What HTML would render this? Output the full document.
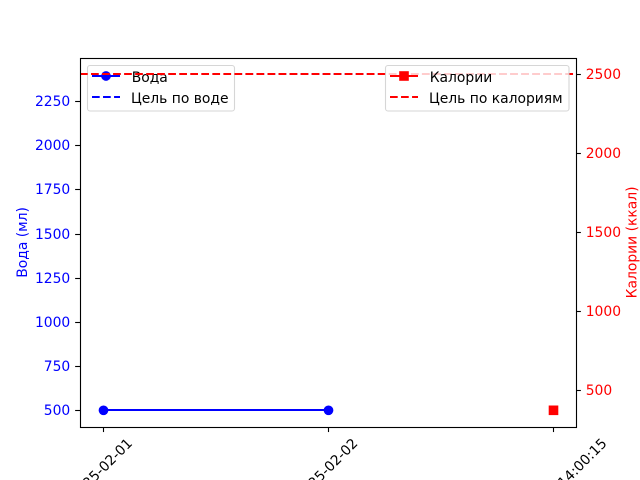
<!DOCTYPE html>
<html lang="ru">
<head>
<meta charset="utf-8">
<title>Вода и калории</title>
<style>
html,body{margin:0;padding:0;background:#fff;width:640px;height:480px;overflow:hidden}
svg{display:block;overflow:hidden}
text{font-family:"DejaVu Sans","Liberation Sans",sans-serif;font-size:13.89px}
</style>
</head>
<body>
<svg id="chart" width="640" height="480" viewBox="0 0 640 480" xmlns="http://www.w3.org/2000/svg">
<rect x="0" y="0" width="640" height="480" fill="#fff"/>
<g id="water-layer"></g>
<g id="water-legend">
<rect x="87.5" y="65.5" width="147" height="45.5" rx="2.5" fill="#fff" fill-opacity="0.8" stroke="#ccc" stroke-opacity="0.8" stroke-width="1.1"/>
<line x1="92" y1="76" x2="120" y2="76" stroke="#00f" stroke-width="2"/>
<circle cx="106" cy="76" r="4.86" fill="#00f"/>
<text x="131.7" y="82" fill="#000">Вода</text>
<line x1="92" y1="97" x2="120" y2="97" stroke="#00f" stroke-width="2" stroke-dasharray="7.7 3.33"/>
<text x="131" y="103" fill="#000">Цель по воде</text>
</g>
<g id="calorie-layer"></g>
<g id="calorie-legend">
<rect x="385.5" y="65.5" width="183.5" height="45.5" rx="2.5" fill="#fff" fill-opacity="0.8" stroke="#ccc" stroke-opacity="0.8" stroke-width="1.1"/>
<line x1="390" y1="76" x2="418" y2="76" stroke="#f00" stroke-width="2"/>
<rect x="399.2" y="71.2" width="9.6" height="9.6" fill="#f00"/>
<text x="429.7" y="82" fill="#000">Калории</text>
<line x1="390" y1="97" x2="418" y2="97" stroke="#f00" stroke-width="2" stroke-dasharray="7.7 3.33"/>
<text x="429" y="103" fill="#000">Цель по калориям</text>
</g>
<g id="axes-layer"></g>
<text transform="translate(27,242.4) rotate(-90)" text-anchor="middle" fill="#00f">Вода (мл)</text>
<text transform="translate(636.7,242.4) rotate(-90)" text-anchor="middle" fill="#f00">Калории (ккал)</text>
</svg>
<script>
const categories = ["2025-02-01", "2025-02-02", "2025-02-03 14:00:15"];
const waterValues = [500, 500, null];
const calorieValues = [null, null, 370];
const waterGoal = [2400];
const calorieGoal = [2500];
const waterTicks = [500, 750, 1000, 1250, 1500, 1750, 2000, 2250];
const calorieTicks = [500, 1000, 1500, 2000, 2500];

const NS = 'http://www.w3.org/2000/svg';
const plotLeft = 80, plotRight = 576, plotTop = 57.6, plotBottom = 427.2;

function paddedDomain(values) {
  const present = values.filter(function (v) { return v !== null; });
  const lo = Math.min.apply(null, present), hi = Math.max.apply(null, present);
  const pad = (hi - lo || 1) * 0.05;
  return [lo - pad, hi + pad];
}
const waterDomain = paddedDomain(waterValues.concat(waterGoal));
const calorieDomain = paddedDomain(calorieValues.concat(calorieGoal));

function xScale(i) {
  const span = categories.length - 1;
  const pad = span * 0.05;
  return plotLeft + (i + pad) / (span + 2 * pad) * (plotRight - plotLeft);
}
function yScale(v, domain) {
  return plotBottom - (v - domain[0]) / (domain[1] - domain[0]) * (plotBottom - plotTop);
}
function yWater(v) { return yScale(v, waterDomain); }
function yCalorie(v) { return yScale(v, calorieDomain); }
// Pixel snapping, as the reference renderer does for thin and for 2px strokes.
function snapOdd(v) { return Math.floor(v + 0.5) + 0.5; }
function snapEven(v) { return Math.floor(v + 0.5); }

function make(tag, attrs, parent, content) {
  const el = document.createElementNS(NS, tag);
  Object.keys(attrs).forEach(function (k) { el.setAttribute(k, attrs[k]); });
  if (content !== undefined) el.textContent = content;
  parent.appendChild(el);
  return el;
}

const waterLayer = document.getElementById('water-layer');
const calorieLayer = document.getElementById('calorie-layer');
const axesLayer = document.getElementById('axes-layer');
const dash = '7.7 3.33';

// Water series
const waterPts = [];
waterValues.forEach(function (v, i) {
  if (v !== null) waterPts.push(snapOdd(xScale(i)) + ',' + snapEven(yWater(v)));
});
const waterLine = make('polyline', { points: waterPts.join(' '), fill: 'none', stroke: '#00f', 'stroke-width': 2 }, waterLayer);


waterValues.forEach(function (v, i) {
  if (v === null) return;
  const c = make('circle', { cx: snapOdd(xScale(i)), cy: snapOdd(yWater(v)) - 0.2, r: 4.86, fill: '#00f' }, waterLayer);
  
  
});
const waterGoalY = snapEven(yWater(waterGoal[0]));
const waterGoalLine = make('line', { x1: plotLeft, x2: plotRight, y1: waterGoalY, y2: waterGoalY, stroke: '#00f', 'stroke-width': 2, 'stroke-dasharray': dash }, waterLayer);



// Calorie series
const caloriePts = [];
calorieValues.forEach(function (v, i) {
  if (v !== null) caloriePts.push(snapOdd(xScale(i)) + ',' + snapEven(yCalorie(v)));
});
const calorieLine = make('polyline', { points: caloriePts.join(' '), fill: 'none', stroke: '#f00', 'stroke-width': 2 }, calorieLayer);


calorieValues.forEach(function (v, i) {
  if (v === null) return;
  const s = make('rect', { x: snapOdd(xScale(i)) - 4.8, y: snapOdd(yCalorie(v)) - 5, width: 9.6, height: 9.6, fill: '#f00' }, calorieLayer);
  
  
});
const calorieGoalY = snapEven(yCalorie(calorieGoal[0]));
const calorieGoalLine = make('line', { x1: plotLeft, x2: plotRight, y1: calorieGoalY, y2: calorieGoalY, stroke: '#f00', 'stroke-width': 2, 'stroke-dasharray': dash }, calorieLayer);



// Frame
const frameX = snapOdd(plotLeft), frameY = snapOdd(plotTop);
const frame = make('rect', { x: frameX, y: frameY, width: snapOdd(plotRight) - frameX, height: snapOdd(plotBottom) - frameY, fill: 'none', stroke: '#000', 'stroke-width': 1.11 }, axesLayer);



// Left y axis
waterTicks.forEach(function (t) {
  const y = yWater(t);
  const tick = make('line', { x1: plotLeft - 4.86, x2: plotLeft, y1: snapOdd(y), y2: snapOdd(y), stroke: '#000', 'stroke-width': 1.11 }, axesLayer);
  
  
  const label = make('text', { x: plotLeft - 9.72, y: Math.round(y + 5.05), 'text-anchor': 'end', fill: '#00f' }, axesLayer, String(t));
  
  
});

// Right y axis
calorieTicks.forEach(function (t) {
  const y = yCalorie(t);
  const tick = make('line', { x1: plotRight, x2: plotRight + 4.86, y1: snapOdd(y), y2: snapOdd(y), stroke: '#000', 'stroke-width': 1.11 }, axesLayer);
  
  
  const label = make('text', { x: plotRight + 9.72, y: Math.round(y + 5.05), 'text-anchor': 'start', fill: '#f00' }, axesLayer, String(t));
  
  
});

// X axis
categories.forEach(function (c, i) {
  const x = xScale(i);
  const tick = make('line', { x1: snapOdd(x), x2: snapOdd(x), y1: plotBottom, y2: plotBottom + 4.86, stroke: '#000', 'stroke-width': 1.11 }, axesLayer);
  
  
  const label = make('text', { 'text-anchor': 'middle', fill: '#000' }, axesLayer, c);
  
  
  // Rotated 45° about its centre; rotated bounding box top sits just under the tick.
  const w = label.getComputedTextLength ? label.getComputedTextLength() : c.length * 8;
  const halfBox = (w + 16) * Math.SQRT1_2 / 2;
  const cy = plotBottom + 9.72 + halfBox - 2;
  label.setAttribute('transform', 'translate(' + (x - 1.5) + ',' + cy + ') rotate(-45) translate(0,5)');
});
</script>
</body>
</html>
